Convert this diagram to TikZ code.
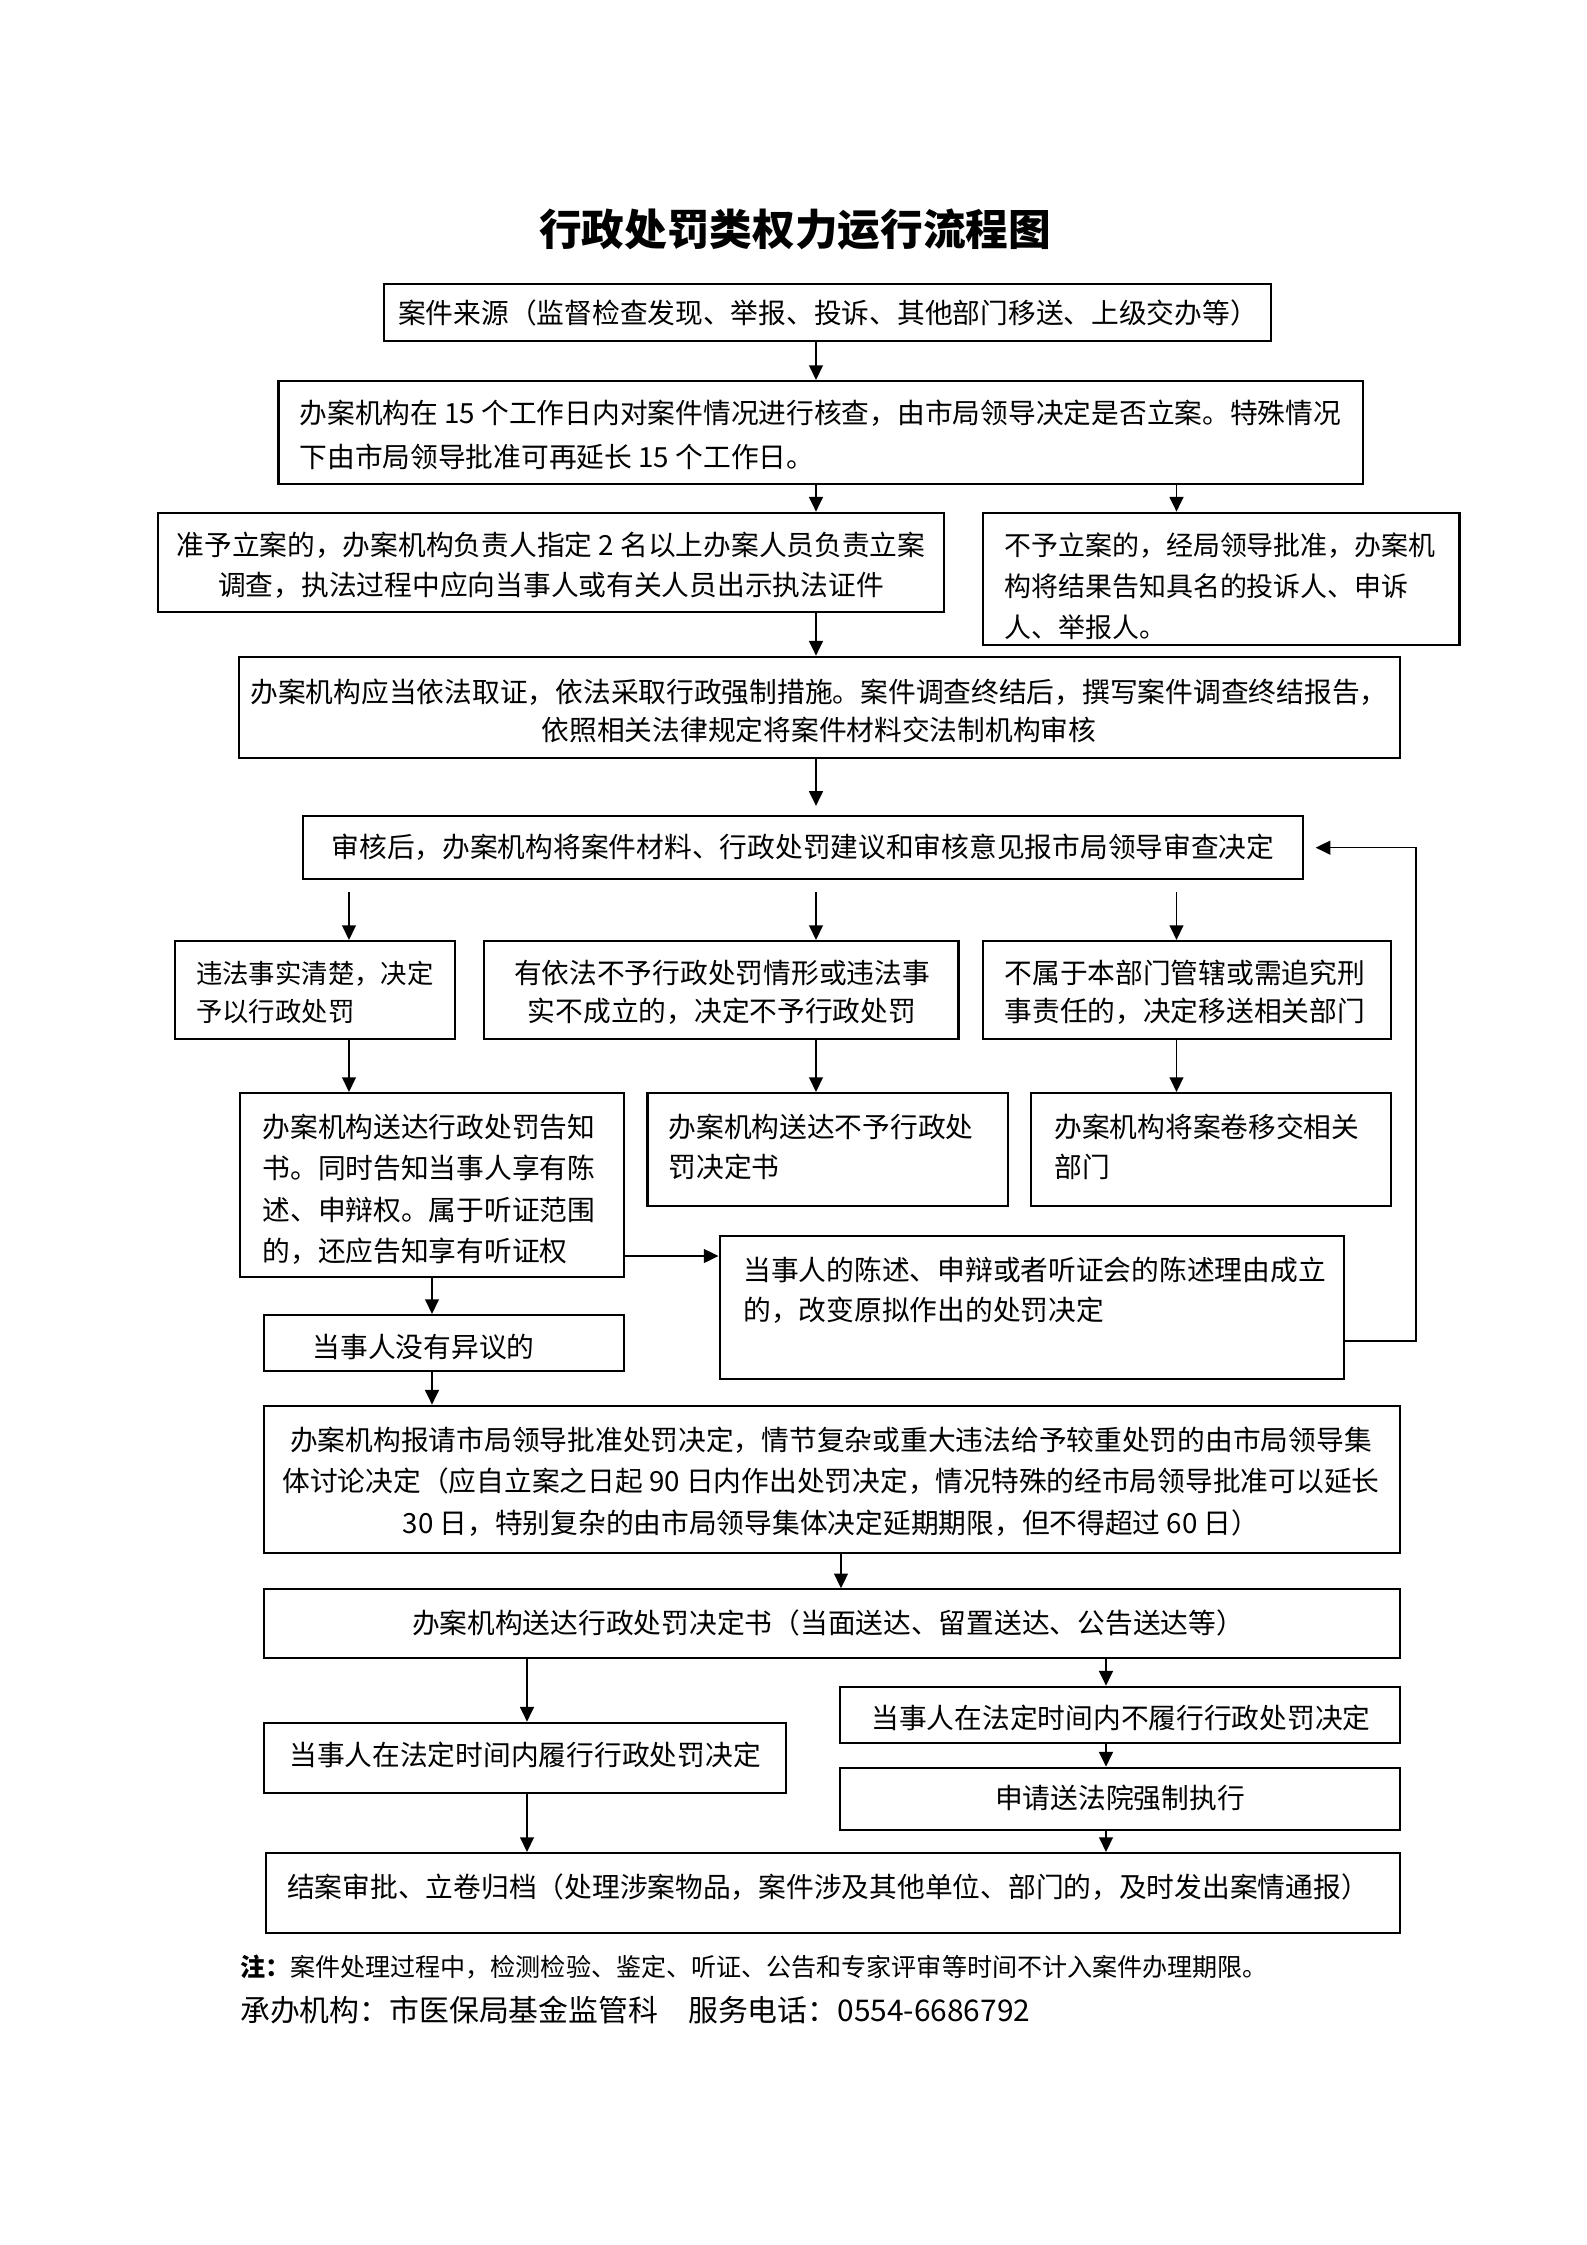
\documentclass[tikz,border=0pt]{standalone}
\usepackage{fontspec}
\newfontfamily\cjk{Noto Sans CJK SC}
\usetikzlibrary{arrows.meta,fit}
\newcommand\mkbox[5]{\path (#2,#3) coordinate (#1-a) (#4,#5) coordinate (#1-b);
  \node[box, fit=(#1-a)(#1-b)] (#1) {};}
\begin{document}
\begin{tikzpicture}[x=0.375pt,y=-0.375pt,
  box/.style={draw, line width=0.8pt, inner sep=0pt},
  txt/.style={inner sep=0pt, align=left, font=\cjk\fontsize{10.4pt}{15.6pt}\selectfont},
  ctxt/.style={txt, align=center},
  arr/.style={-{Triangle[width=5.2pt,length=5.5pt]}, line width=0.6pt}]
\useasboundingbox[fill=white] (0,0) rectangle (1587,2245);

% title
\node[inner sep=0pt, font=\cjk\bfseries\fontsize{16pt}{20pt}\selectfont] (title) at (795,230) {行政处罚类权力运行流程图};

% boxes
\mkbox{b1}{384}{284}{1271}{341}
\mkbox{b2}{278.5}{381}{1363}{484}
\mkbox{b3L}{158}{512.7}{944}{612}
\mkbox{b3R}{983}{512.7}{1459.5}{645}
\mkbox{b4}{238.7}{656.7}{1399.6}{757.7}
\mkbox{b5}{303.4}{816}{1302.6}{879.3}
\mkbox{b6a}{174.9}{941}{455}{1039.3}
\mkbox{b6b}{484}{941}{958.5}{1039.3}
\mkbox{b6c}{983}{941}{1391.3}{1039.3}
\mkbox{b7a}{239.6}{1093}{624.3}{1276.7}
\mkbox{b7b}{647.5}{1093}{1008}{1206}
\mkbox{b7c}{1031.4}{1093}{1391.3}{1206}
\mkbox{b8}{719.6}{1235.7}{1344}{1379}
\mkbox{b9}{263.6}{1315}{624.3}{1371}
\mkbox{b10}{263.6}{1405.7}{1399.6}{1553.3}
\mkbox{b11}{263.6}{1589.3}{1399.6}{1657.7}
\mkbox{b12R}{840}{1686.7}{1399.6}{1742.7}
\mkbox{b12L}{263.6}{1722.7}{786}{1793.3}
\mkbox{b13R}{840}{1767.7}{1399.6}{1830}
\mkbox{b14}{266}{1853}{1399.6}{1932.7}

% texts
\node[ctxt] (t1) at (828,313) {案件来源（监督检查发现、举报、投诉、其他部门移送、上级交办等）};
\node[txt, anchor=west, font=\cjk\fontsize{10.4pt}{16.3pt}\selectfont] (t2) at (299,435) {办案机构在 15 个工作日内对案件情况进行核查，由市局领导决定是否立案。特殊情况\\下由市局领导批准可再延长 15 个工作日。};
\node[ctxt, font=\cjk\fontsize{10.4pt}{15pt}\selectfont] (t3L) at (551,565) {准予立案的，办案机构负责人指定 2 名以上办案人员负责立案\\调查，执法过程中应向当事人或有关人员出示执法证件};
\node[txt, anchor=west, font=\cjk\fontsize{10.1pt}{15.3pt}\selectfont] (t3R) at (1004,586) {不予立案的，经局领导批准，办案机\\构将结果告知具名的投诉人、申诉\\人、举报人。};
\node[ctxt, font=\cjk\fontsize{10.4pt}{14.3pt}\selectfont] (t4) at (819,711) {办案机构应当依法取证，依法采取行政强制措施。案件调查终结后，撰写案件调查终结报告，\\依照相关法律规定将案件材料交法制机构审核};
\node[ctxt] (t5) at (803,847) {审核后，办案机构将案件材料、行政处罚建议和审核意见报市局领导审查决定};
\node[txt, anchor=west, font=\cjk\fontsize{9.9pt}{14.4pt}\selectfont] (t6a) at (195.6,992.5) {违法事实清楚，决定\\予以行政处罚};
\node[ctxt, font=\cjk\fontsize{10.4pt}{14.4pt}\selectfont] (t6b) at (722,992.5) {有依法不予行政处罚情形或违法事\\实不成立的，决定不予行政处罚};
\node[txt, anchor=west, font=\cjk\fontsize{10.4pt}{14.4pt}\selectfont] (t6c) at (1004,992.5) {不属于本部门管辖或需追究刑\\事责任的，决定移送相关部门};
\node[txt, anchor=west] (t7a) at (262,1189.2) {办案机构送达行政处罚告知\\书。同时告知当事人享有陈\\述、申辩权。属于听证范围\\的，还应告知享有听证权};
\node[txt, anchor=west, font=\cjk\fontsize{10.4pt}{15pt}\selectfont] (t7b) at (668,1146.7) {办案机构送达不予行政处\\罚决定书};
\node[txt, anchor=west, font=\cjk\fontsize{10.4pt}{15pt}\selectfont] (t7c) at (1053.8,1146.7) {办案机构将案卷移交相关\\部门};
\node[txt, anchor=west, font=\cjk\fontsize{10.4pt}{15pt}\selectfont] (t8) at (742.9,1290) {当事人的陈述、申辩或者听证会的陈述理由成立\\的，改变原拟作出的处罚决定};
\node[ctxt] (t9) at (423.6,1346.7) {当事人没有异议的};
\node[ctxt] (t10) at (831,1481.7) {办案机构报请市局领导批准处罚决定，情节复杂或重大违法给予较重处罚的由市局领导集\\体讨论决定（应自立案之日起 90 日内作出处罚决定，情况特殊的经市局领导批准可以延长\\30 日，特别复杂的由市局领导集体决定延期期限，但不得超过 60 日）};
\node[ctxt] (t11) at (828,1623.3) {办案机构送达行政处罚决定书（当面送达、留置送达、公告送达等）};
\node[ctxt] (t12R) at (1121,1718.3) {当事人在法定时间内不履行行政处罚决定};
\node[ctxt] (t12L) at (525,1755) {当事人在法定时间内履行行政处罚决定};
\node[ctxt] (t13R) at (1120,1798.3) {申请送法院强制执行};
\node[ctxt] (t14) at (828,1886.7) {结案审批、立卷归档（处理涉案物品，案件涉及其他单位、部门的，及时发出案情通报）};

\node[txt, anchor=west, font=\cjk\fontsize{9.4pt}{12pt}\selectfont] (note) at (239.6,1966.7) {{\bfseries 注：}案件处理过程中，检测检验、鉴定、听证、公告和专家评审等时间不计入案件办理期限。};
\node[txt, anchor=west, font=\cjk\fontsize{11.2pt}{14pt}\selectfont] (foot) at (239.6,2010) {承办机构：市医保局基金监管科\hspace{1em}服务电话：0554-6686792};

% connector helpers
\coordinate (xA) at (816,0);
\coordinate (xB) at (1176.5,0);
\coordinate (xC) at (349,0);
\coordinate (xD) at (432,0);
\coordinate (xE) at (841,0);
\coordinate (xF) at (527,0);
\coordinate (xG) at (1106,0);
\coordinate (xR) at (1416,0);
\coordinate (yR) at (0,1256);
\coordinate (yF) at (0,1341);

% arrows
\draw[arr] (b1.south -| xA) -- (b2.north -| xA);
\draw[arr] (b2.south -| xA) -- (b3L.north -| xA);
\draw[arr] (b2.south -| xB) -- (b3R.north -| xB);
\draw[arr] (b3L.south -| xA) -- (b4.north -| xA);
\draw[arr, shorten >=3.4pt] (b4.south -| xA) -- (b5.north -| xA);
\draw[arr, shorten <=4.5pt] (b5.south -| xC) -- (b6a.north -| xC);
\draw[arr, shorten <=4.5pt] (b5.south -| xA) -- (b6b.north -| xA);
\draw[arr, shorten <=4.5pt] (b5.south -| xB) -- (b6c.north -| xB);
\draw[arr] (b6a.south -| xC) -- (b7a.north -| xC);
\draw[arr] (b6b.south -| xA) -- (b7b.north -| xA);
\draw[arr] (b6c.south -| xB) -- (b7c.north -| xB);
\draw[arr] (b7a.east |- yR) -- (b8.west |- yR);
\draw[arr] (b7a.south -| xD) -- (b9.north -| xD);
\draw[arr] (b9.south -| xD) -- (b10.north -| xD);
\draw[arr, shorten >=4.5pt] (b8.east |- yF) -- (xR |- yF) -- (xR |- b5.east) -- (b5.east);
\draw[arr] (b10.south -| xE) -- (b11.north -| xE);
\draw[arr] (b11.south -| xF) -- (b12L.north -| xF);
\draw[arr] (b11.south -| xG) -- (b12R.north -| xG);
\draw[arr] (b12R.south -| xG) -- (b13R.north -| xG);
\draw[arr] (b12L.south -| xF) -- (b14.north -| xF);
\draw[arr] (b13R.south -| xG) -- (b14.north -| xG);
\end{tikzpicture}
\end{document}
